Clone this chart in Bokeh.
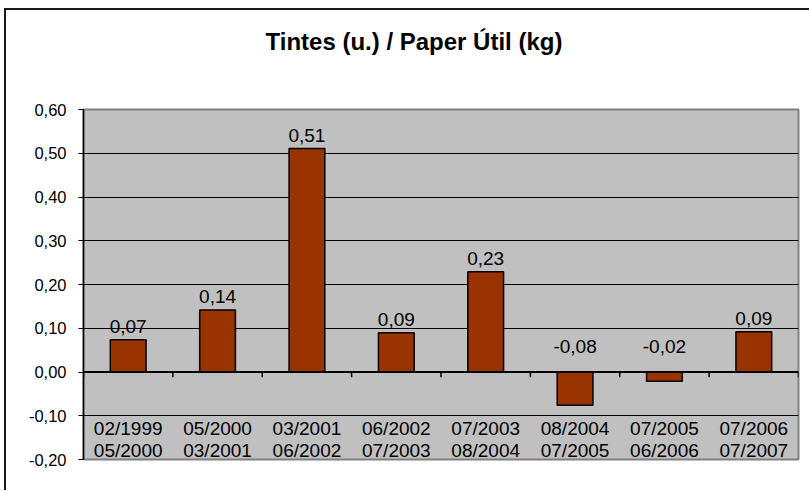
from bokeh.plotting import figure
from bokeh.models import (Range1d, FixedTicker, CustomJSTickFormatter, Span,
                          ColumnDataSource, LinearAxis, Title)
from bokeh.core.properties import value
from bokeh.embed import file_html
from bokeh.resources import INLINE

# ---- data ----
periods_start = ["02/1999", "05/2000", "03/2001", "06/2002", "07/2003", "08/2004", "07/2005", "07/2006"]
periods_end = ["05/2000", "03/2001", "06/2002", "07/2003", "08/2004", "07/2005", "06/2006", "07/2007"]
ratio = [0.074, 0.142, 0.511, 0.090, 0.229, -0.076, -0.021, 0.092]
y_ticks = [-0.2, -0.1, 0.0, 0.1, 0.2, 0.3, 0.4, 0.5, 0.6]
title_text = "Tintes (u.) / Paper Útil (kg)"

FONT = "Liberation Sans"
n = len(ratio)
xc = [i + 0.5 for i in range(n)]

src = ColumnDataSource(dict(
    x=xc,
    top=ratio,
    lab=[f"{v:.2f}".replace(".", ",") for v in ratio],
    ly=[max(v, 0) for v in ratio],
    loff=[-13 if v >= 0 else -26 for v in ratio],
    c1=periods_start,
    c2=periods_end,
    zero=[0] * n,
))

p = figure(
    title=None,
    x_range=Range1d(0, n), y_range=Range1d(y_ticks[0], y_ticks[-1]),
    frame_width=715, frame_height=350,
    min_border_left=83, min_border_right=11, min_border_top=109, min_border_bottom=31,
    output_backend="svg", toolbar_location=None,
    x_axis_location=None, y_axis_location=None,
)
border_css = ("linear-gradient(#1a1a1a, #1a1a1a) 4px 8px / 2px calc(100% - 8px) no-repeat, "
              "linear-gradient(#1a1a1a, #1a1a1a) 4px 8px / calc(100% - 4px) 2px no-repeat, #ffffff")
p.styles = {"background": border_css}

p.background_fill_color = "#C0C0C0"
p.border_fill_color = None
p.outline_line_color = "#808080"
p.outline_line_width = 2

# y axis
yax = LinearAxis(
    ticker=FixedTicker(ticks=y_ticks),
    formatter=CustomJSTickFormatter(code="return tick.toFixed(2).replace('.', ',');"),
)
yax.axis_line_color = "black"
yax.axis_line_width = 1.5
yax.major_tick_line_color = "black"
yax.major_tick_out = 5
yax.major_tick_in = 0
yax.minor_tick_line_color = None
yax.major_label_standoff = 12
yax.major_label_text_font = FONT
yax.major_label_text_font_size = "16.5px"
yax.major_label_text_color = "black"
p.add_layout(yax, "left")

p.xgrid.visible = False
p.ygrid.ticker = FixedTicker(ticks=[t for t in y_ticks if t not in (0.0, y_ticks[0], y_ticks[-1])])
p.ygrid.grid_line_color = "black"
p.ygrid.grid_line_width = 1

# bars
p.vbar(x="x", top="top", bottom=0, width=0.4, source=src,
       fill_color="#993300", line_color="black", line_width=1.5)

# category axis at zero
p.add_layout(Span(location=0, dimension="width", line_color="black", line_width=2))
bounds = list(range(n + 1))
p.segment(x0=bounds, x1=bounds, y0=[0] * len(bounds), y1=[-0.012] * len(bounds),
          line_color="black", line_width=1.5)

# data labels
p.text(x="x", y="ly", text="lab", y_offset="loff", source=src,
       text_font=value(FONT), text_font_size="19px", text_color="black",
       text_align="center", text_baseline="alphabetic")

# category labels (inside plot, below zero line)
p.text(x="x", y="zero", text="c1", y_offset=56.5, source=src,
       text_font=value(FONT), text_font_size="19px", text_color="black",
       text_align="center", text_baseline="alphabetic")
p.text(x="x", y="zero", text="c2", y_offset=78, source=src,
       text_font=value(FONT), text_font_size="19px", text_color="black",
       text_align="center", text_baseline="alphabetic")

# spacer between plot area and title, then the title
spacer = Title(text=" ", text_font_size="10px", standoff=37, text_color="white")
p.add_layout(spacer, "above")
title = Title(text=title_text, align="left", offset=182, standoff=10,
              text_font=FONT, text_font_size="24px", text_font_style="bold",
              text_color="black")
p.add_layout(title, "above")

open("out.html", "w").write(file_html(p, INLINE))
